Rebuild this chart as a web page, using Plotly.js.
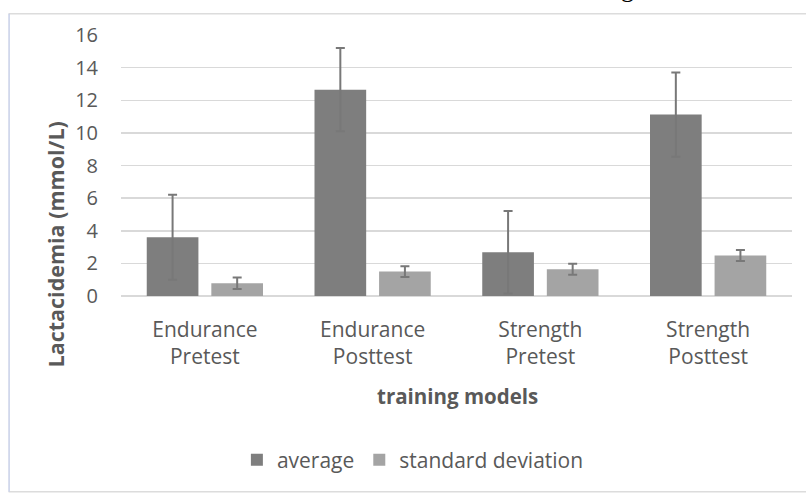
<!DOCTYPE html>
<html>
<head>
<meta charset="utf-8">
<script src="https://cdn.plot.ly/plotly-3.0.1.min.js"></script>
<style>html,body{margin:0;padding:0;background:#fff;}#chart{width:806px;height:493px;}</style>
</head>
<body>
<div id="chart"></div>
<script>
// Data
const categories = ["Endurance<br>Pretest", "Endurance<br>Posttest", "Strength<br>Pretest", "Strength<br>Posttest"];
const averageValues = [3.6, 12.65, 2.68, 11.12];
const averageErrors = [2.6, 2.55, 2.53, 2.58];
const sdValues = [0.78, 1.5, 1.64, 2.48];
const sdErrors = [0.35, 0.33, 0.33, 0.34];
const seriesNames = ["average", "standard deviation"];
const yTicks = [0, 2, 4, 6, 8, 10, 12, 14, 16];

const FONT = "'Open Sans', Lato, sans-serif";
const TXT = "#595959";

const PL = 120.5, PR = 792, PT = 35.3, PB = 296;
const W = 806, H = 493;
const pw = PR - PL, ph = PB - PT;
const px = x => (x - PL) / pw;
const py = y => (PB - y) / ph;

const traces = [
  {
    type: "bar", name: seriesNames[0], x: categories, y: averageValues,
    marker: {color: "#7e7e7e"},
    error_y: {type: "data", array: averageErrors, visible: true, color: "#787878", thickness: 2, width: 4.5}
  },
  {
    type: "bar", name: seriesNames[1], x: categories, y: sdValues,
    marker: {color: "#a4a4a4"},
    error_y: {type: "data", array: sdErrors, visible: true, color: "#787878", thickness: 2, width: 4.5}
  }
];

const layout = {
  width: W, height: H,
  margin: {l: PL, r: W - PR, t: PT, b: H - PB, pad: 0},
  paper_bgcolor: "#fff", plot_bgcolor: "#fff",
  barmode: "group", bargap: 0.23, bargroupgap: 0.2,
  font: {family: FONT, color: TXT, size: 19},
  showlegend: true,
  legend: {
    orientation: "h", x: 0.435, xanchor: "center", y: py(460), yanchor: "middle",
    font: {family: FONT, size: 21, color: TXT}, itemwidth: 30, traceorder: "normal"
  },
  xaxis: {
    type: "category", showgrid: false, showline: false, zeroline: false,
    ticks: "", tickfont: {family: FONT, size: 21, color: TXT}, ticklabelstandoff: 19
  },
  yaxis: {
    range: [0, 16], tickvals: yTicks, ticktext: yTicks.map(String),
    showgrid: true, gridcolor: "#d9d9d9", gridwidth: 1.5,
    zeroline: true, zerolinecolor: "#d9d9d9", zerolinewidth: 1.5,
    showline: false, ticks: "",
    tickfont: {family: FONT, size: 20, color: TXT}, ticklabelstandoff: 22
  },
  annotations: [
    {text: "<b>Lactacidemia (mmol/L)</b>", textangle: -90, xref: "paper", yref: "paper",
     x: px(55), y: py(245), xanchor: "center", yanchor: "middle", showarrow: false,
     font: {family: FONT, size: 21.5, color: TXT}},
    {text: "<b>training models</b>", xref: "paper", yref: "paper",
     x: px(457), y: py(396), xanchor: "center", yanchor: "middle", showarrow: false,
     font: {family: FONT, size: 20.5, color: TXT}},
    {text: "g", xref: "paper", yref: "paper", x: px(627), y: py(5), xanchor: "center", yanchor: "bottom",
     showarrow: false, font: {family: "'Liberation Serif', serif", size: 26, color: "#000"}}
  ],
  shapes: [
    {type: "line", xref: "paper", yref: "paper", x0: px(8), x1: px(810), y0: py(14), y1: py(14), line: {color: "#dcdcdc", width: 1.5}},
    {type: "line", xref: "paper", yref: "paper", x0: px(8), x1: px(810), y0: py(491.5), y1: py(491.5), line: {color: "#dcdcdc", width: 1.5}},
    {type: "line", xref: "paper", yref: "paper", x0: px(8.5), x1: px(8.5), y0: py(14), y1: py(491.5), line: {color: "#c8d0e8", width: 1.5}}
  ]
};

Plotly.newPlot("chart", traces, layout, {staticPlot: true, displayModeBar: false});
</script>
</body>
</html>
